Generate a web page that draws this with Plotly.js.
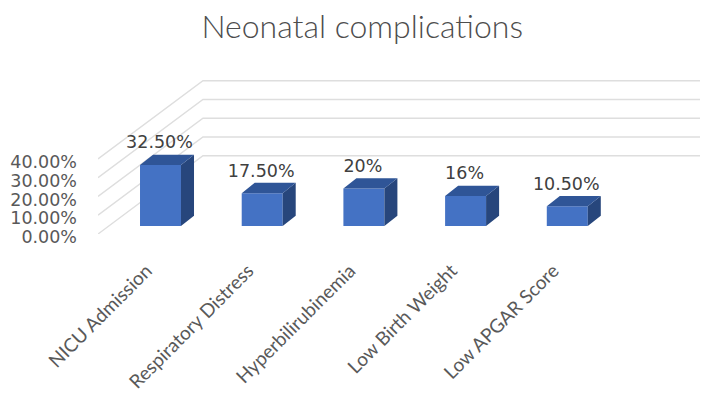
<!DOCTYPE html>
<html>
<head>
<meta charset="utf-8">
<script src="https://cdn.plot.ly/plotly-3.0.1.min.js"></script>
<style>html,body{margin:0;padding:0;background:#fff}</style>
</head>
<body>
<div id="chart" style="width:702px;height:394px"></div>
<script>
// Neonatal complications, drawn as a pseudo-3D column chart.
const categories = ['NICU Admission', 'Respiratory Distress', 'Hyperbilirubinemia', 'Low Birth Weight', 'Low APGAR Score'];
const values = [32.5, 17.5, 20, 16, 10.5];
const valueLabels = ['32.50%', '17.50%', '20%', '16%', '10.50%'];
const axisTicks = [0, 10, 20, 30, 40];
const axisTickLabels = ['0.00%', '10.00%', '20.00%', '30.00%', '40.00%'];

const indices = categories.map((_, i) => i);

// Extrusion sizes, in axis units.
const barWidth = 0.403;
const barDepthX = 0.128;
const barDepthY = 5.5;
const labelGap = 1;          // extra room between a column's top and its label
const wallDepthX = 1.032;
const wallDepthY = 41.7;
const barFloorLift = 4.27;   // the columns stand part-way back on the floor
const xMin = -0.6146, xMax = 5.305;
const yMax = 82.1;

// Gridlines run back along the side wall, then across the rear wall.
const gridX = [], gridY = [];
axisTicks.forEach(t => {
  gridX.push(xMin, xMin + wallDepthX, xMax, null);
  gridY.push(t, t + wallDepthY, t + wallDepthY, null);
});

// Side and top faces of every column.
const sideX = [], sideY = [], topX = [], topY = [];
values.forEach((v, i) => {
  const r = i + barWidth / 2, l = i - barWidth / 2;
  sideX.push(r, r + barDepthX, r + barDepthX, r, r, null);
  sideY.push(0, barDepthY, v + barDepthY, v, 0, null);
  topX.push(l, l + barDepthX, r + barDepthX, r, l, null);
  topY.push(v, v + barDepthY, v + barDepthY, v, v, null);
});

const traces = [
  { type: 'scatter', mode: 'lines', x: gridX, y: gridY, xaxis: 'x', yaxis: 'y',
    line: { color: '#DEDEDE', width: 1.4 }, hoverinfo: 'skip' },
  { type: 'bar', x: indices, y: values, width: barWidth, xaxis: 'x', yaxis: 'y2',
    marker: { color: '#4472C4', line: { width: 0 } } },
  { type: 'scatter', mode: 'none', x: sideX, y: sideY, xaxis: 'x', yaxis: 'y2',
    fill: 'toself', fillcolor: '#27467C', hoverinfo: 'skip' },
  { type: 'scatter', mode: 'none', x: topX, y: topY, xaxis: 'x', yaxis: 'y2',
    fill: 'toself', fillcolor: '#2F5597', hoverinfo: 'skip' },
  { type: 'scatter', mode: 'text', x: indices.map(i => i - 0.01), y: values.map(v => v + barDepthY + labelGap),
    xaxis: 'x', yaxis: 'y2', text: valueLabels, textposition: 'top center',
    textfont: { family: 'DejaVu Sans', size: 17.5, color: '#404040' },
    cliponaxis: false, hoverinfo: 'skip' }
];

const layout = {
  width: 702, height: 394, autosize: false,
  margin: { l: 98, r: 2, t: 80, b: 160, pad: 0 },
  paper_bgcolor: '#fff', plot_bgcolor: '#fff',
  showlegend: false,
  title: { text: 'Neonatal complications', xref: 'container', yref: 'container',
           x: 0.516, y: 0.931, xanchor: 'center', yanchor: 'middle',
           font: { family: 'Lato', size: 32, weight: 300, color: '#4D4D4D' } },
  xaxis: { range: [xMin, xMax], tickmode: 'array', tickvals: indices, ticktext: categories,
           tickangle: -45, ticks: '', showgrid: false, zeroline: false, showline: false,
           ticklabelstandoff: 21, ticklabelshift: -14,
           tickfont: { family: 'Lato', size: 19, color: '#595959' } },
  yaxis: { range: [0, yMax], tickmode: 'array', tickvals: axisTicks, ticktext: axisTickLabels,
           ticks: '', showgrid: false, zeroline: false, showline: false,
           ticklabelstandoff: 20, ticklabelshift: 3,
           tickfont: { family: 'DejaVu Sans', size: 17.5, color: '#595959' } },
  yaxis2: { range: [-barFloorLift, yMax - barFloorLift], overlaying: 'y', visible: false }
};

Plotly.newPlot('chart', traces, layout, { displayModeBar: false, staticPlot: true });
</script>
</body>
</html>
